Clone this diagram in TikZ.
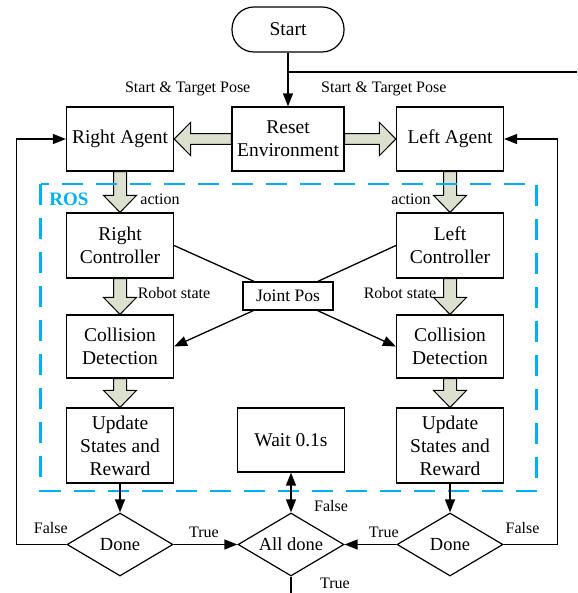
\documentclass[tikz,border=0pt]{standalone}
\usepackage{fontspec}
\setmainfont{Liberation Serif}
\usetikzlibrary{arrows.meta,shapes.geometric,calc}
\definecolor{roscyan}{RGB}{0,176,240}
\definecolor{blkfill}{RGB}{220,224,206}
\newcommand\myfs[1]{\fontsize{#1}{23}\selectfont}
\newcommand\vblock[2]{%
  \draw[blk] let \p1=(#1.south), \p2=(#2.north) in
   (\x1-6.5pt,\y1) -- (\x1+6.5pt,\y1) -- (\x1+6.5pt,\y2+17pt) -- (\x1+16.5pt,\y2+17pt)
   -- (\x1,\y2) -- (\x1-16.5pt,\y2+17pt) -- (\x1-6.5pt,\y2+17pt) -- cycle;}
\begin{document}
\begin{tikzpicture}[x=1pt,y=-1pt,
  ln/.style={line width=1.3pt},
  arr/.style={ln,-{Triangle[length=13pt,width=10pt]}},
  dbl/.style={ln,{Triangle[length=13pt,width=10pt]}-{Triangle[length=13pt,width=10pt]}},
  box/.style={draw,line width=1.2pt,minimum width=107pt,minimum height=64pt,inner sep=0pt,align=center,font=\myfs{19.5}},
  term/.style={draw,line width=1.2pt,rounded corners=22pt,minimum width=112pt,minimum height=45pt,inner sep=0pt,font=\myfs{19.5}},
  dec/.style={draw,diamond,line width=1.2pt,minimum width=106pt,minimum height=63pt,inner sep=0pt,aspect=1.6,font=\myfs{18.5}},
  lbl/.style={inner sep=0pt,font=\myfs{16}},
  blk/.style={draw,line width=1pt,fill=blkfill},
  rosbox/.style={draw=roscyan,line width=2.6pt,dash pattern=on 21pt off 13pt}]
\useasboundingbox (0,0) rectangle (577,593);

% nodes
\node[term] (start) at (288,29.5) {Start};
\node[box,minimum width=112pt] (reset) at (288,139) {Reset\\Environment};
\node[box] (ra) at (120,139) {Right Agent};
\node[box] (la) at (450,139) {Left Agent};
\node[box,minimum height=65pt] (rc) at (120,245.5) {Right\\Controller};
\node[box,minimum height=65pt] (lc) at (450,245.5) {Left\\Controller};
\node[draw,line width=1.2pt,minimum width=90pt,minimum height=28pt,inner sep=0pt,font=\myfs{17.5}] (jp) at (288,296) {Joint Pos};
\node[box,minimum height=63pt] (rcd) at (120,346.5) {Collision\\Detection};
\node[box,minimum height=63pt] (lcd) at (450,346.5) {Collision\\Detection};
\node[box,minimum height=75pt] (ru) at (120,445.5) {Update\\States and\\Reward};
\node[box,minimum height=75pt] (lu) at (450,445.5) {Update\\States and\\Reward};
\node[box] (wait) at (291,440) {Wait 0.1s};
\node[dec] (rd) at (120,544.5) {Done};
\node[dec] (ld) at (450,544.5) {Done};
\node[dec] (ad) at (291,544.5) {All done};

% labels
\node[lbl] (stp1) at (187.7,89) {Start \& Target Pose};
\node[lbl] (stp2) at (383.8,89) {Start \& Target Pose};
\node[lbl,font=\myfs{19}\bfseries,text=roscyan] (roslbl) at (69,199) {ROS};
\node[lbl] (act1) at (160,199) {action};
\node[lbl] (act2) at (411,199) {action};
\node[lbl] (rs1) at (174,293) {Robot state};
\node[lbl] (rs2) at (400,293) {Robot state};
\node[lbl] (f0) at (331,506) {False};
\node[lbl] (t1) at (204,532) {True};
\node[lbl] (t2) at (383.8,532) {True};
\node[lbl] (f1) at (50.8,528) {False};
\node[lbl] (f2) at (522.5,528) {False};
\node[lbl] (t3) at (335,583) {True};

% block arrows
\draw[blk] let \p1=(reset.west), \p2=(ra.east) in
  (\x1,\y1+5.3pt) -- (\x2+16.6pt,\y1+5.3pt) -- (\x2+16.6pt,\y1+16.7pt) -- (\x2,\y1)
  -- (\x2+16.6pt,\y1-16.7pt) -- (\x2+16.6pt,\y1-5.3pt) -- (\x1,\y1-5.3pt) -- cycle;
\draw[blk] let \p1=(reset.east), \p2=(la.west) in
  (\x1,\y1+5.3pt) -- (\x2-16.6pt,\y1+5.3pt) -- (\x2-16.6pt,\y1+16.7pt) -- (\x2,\y1)
  -- (\x2-16.6pt,\y1-16.7pt) -- (\x2-16.6pt,\y1-5.3pt) -- (\x1,\y1-5.3pt) -- cycle;
\vblock{ra}{rc}
\vblock{la}{lc}
\vblock{rc}{rcd}
\vblock{lc}{lcd}
\vblock{rcd}{ru}
\vblock{lcd}{lu}

% ROS frame
\draw[rosbox] (40.5,184) rectangle (536.5,491);

% connectors
\draw[arr] (start) -- (reset);
\coordinate (br) at (288,72);
\coordinate (brend) at (577,72);
\draw[ln] (br) -- (brend);
\draw[ln] (rc.east) -- ([xshift=11.6pt]jp.north west);
\draw[ln] (lc.west) -- ([xshift=-15.8pt]jp.north east);
\draw[arr] ([xshift=11pt]jp.south west) -- (rcd.east);
\draw[arr] ([xshift=-16pt]jp.south east) -- (lcd.west);
\draw[arr] (ru) -- (rd);
\draw[arr] (lu) -- (ld);
\draw[arr] (rd.east) -- (ad.west);
\draw[arr] (ld.west) -- (ad.east);
\draw[dbl] (wait.south) -- (ad.north);
\coordinate (bot) at (291,593);
\draw[ln] (ad.south) -- (bot);
\coordinate (fbl) at (16.6,544.5);
\coordinate (fbr) at (557.5,544.5);
\draw[arr] (rd.west) -- (fbl) |- (ra.west);
\draw[arr] (ld.east) -- (fbr) |- (la.east);
\end{tikzpicture}
\end{document}
